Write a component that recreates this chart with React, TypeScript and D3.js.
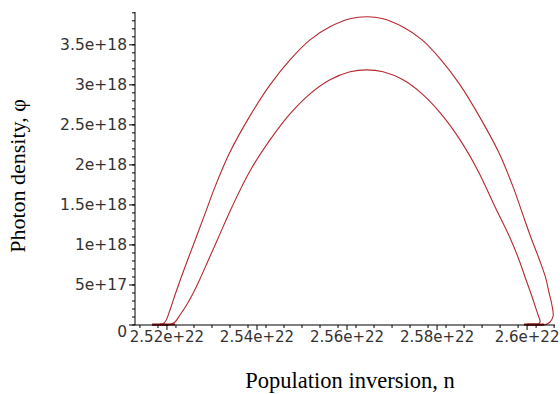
import React from "react";
import * as d3 from "d3";

// units: n in 1e22, phi in 1e18
const N_UNIT = 1e22;
const PHI_UNIT = 1e18;

const outerN = [2.51667, 2.51844, 2.51956, 2.52067, 2.52178, 2.52311, 2.52467, 2.52644, 2.52844, 2.53067, 2.534, 2.53844, 2.54289, 2.54733, 2.55178, 2.55622, 2.56067, 2.56444,
  2.568, 2.57233, 2.57667, 2.58089, 2.58511, 2.58933, 2.59367, 2.59689, 2.599, 2.60089, 2.60267, 2.60413, 2.60489, 2.60556, 2.60578, 2.60511, 2.60378, 2.60178, 2.6];
const outerPhi = [0, 0, 0.0375, 0.1875, 0.375, 0.5875, 0.825, 1.0875, 1.3875, 1.725, 2.16, 2.6125, 3.0, 3.3125, 3.5625, 3.725, 3.825, 3.85,
  3.825, 3.725, 3.5625, 3.3125, 3.0, 2.6125, 2.16, 1.725, 1.3875, 1.0875, 0.825, 0.5875, 0.4, 0.2375, 0.1125, 0.0375, 0, 0, 0];

const innerN = [2.51844, 2.52044, 2.52178, 2.52289, 2.52422, 2.52578, 2.52733, 2.52911, 2.53133, 2.53444, 2.53844, 2.54289, 2.54733, 2.55178, 2.55622, 2.56067, 2.56444,
  2.568, 2.57244, 2.57667, 2.58089, 2.58511, 2.58911, 2.59289, 2.59622, 2.59822, 2.59978, 2.60089, 2.60178, 2.60244, 2.60289, 2.60222, 2.60089, 2.59933];
const innerPhi = [0, 0, 0.0375, 0.125, 0.2375, 0.394, 0.575, 0.8, 1.081, 1.475, 1.925, 2.3125, 2.6375, 2.8875, 3.0625, 3.1625, 3.1875,
  3.1625, 3.0625, 2.8875, 2.6375, 2.3125, 1.925, 1.475, 1.0875, 0.8125, 0.5625, 0.3875, 0.2375, 0.125, 0.0375, 0.00625, 0, 0];

const xTickValues = [2.52, 2.54, 2.56, 2.58, 2.6];
const xTickLabels = ["2.52e+22", "2.54e+22", "2.56e+22", "2.58e+22", "2.6e+22"];
const yTickValues = [0, 0.5, 1, 1.5, 2, 2.5, 3, 3.5];
const yTickLabels = ["0", "5e+17", "1e+18", "1.5e+18", "2e+18", "2.5e+18", "3e+18", "3.5e+18"];

const xDomain = [2.5129, 2.6062];
const yDomain = [0, 3.91];

export default function App() {
  const W = 560, H = 394;
  const left = 135, right = 555, top = 12, bottom = 325;
  const x = d3.scaleLinear().domain(xDomain.map((v) => v * N_UNIT)).range([left, right]);
  const y = d3.scaleLinear().domain(yDomain.map((v) => v * PHI_UNIT)).range([bottom, top]);

  const line = d3
    .line<[number, number]>()
    .x((d) => x(d[0] * N_UNIT))
    .y((d) => y(d[1] * PHI_UNIT))
    .curve(d3.curveCatmullRom.alpha(0.5));

  const outer: [number, number][] = outerN.map((n, i) => [n, outerPhi[i]]);
  const inner: [number, number][] = innerN.map((n, i) => [n, innerPhi[i]]);

  const xMinor = d3.range(0, 50).map((i) => 2.514 + i * 0.004).filter((v) => v >= xDomain[0] && v <= xDomain[1]);
  const yMinor = d3.range(0, 40).map((i) => i * 0.1).filter((v) => v <= yDomain[1]);

  const flatSegs = [
    [outerN[0], outerN[2]],
    [innerN[0], innerN[2]],
    [outerN[outerN.length - 1], outerN[outerN.length - 3]],
    [innerN[innerN.length - 1], innerN[innerN.length - 3]],
  ];

  const tickFont = "'DejaVu Sans', Verdana, sans-serif";
  const titleFont = "'Liberation Serif', 'Times New Roman', serif";

  return (
    <svg width={W} height={H} style={{ position: "absolute", left: 0, top: 0, background: "#fff" }}>
      <path d={line(outer) || ""} fill="none" stroke="#b5282e" strokeWidth={1.1} />
      <path d={line(inner) || ""} fill="none" stroke="#b5282e" strokeWidth={1.1} />
      {flatSegs.map((s, i) => (
        <line key={i} x1={x(s[0] * N_UNIT)} x2={x(s[1] * N_UNIT)} y1={y(0) - 0.5} y2={y(0) - 0.5} stroke="#8b1414" strokeWidth={2} />
      ))}
      <line x1={left} x2={right} y1={bottom} y2={bottom} stroke="#000" strokeWidth={1} />
      <line x1={left} x2={left} y1={top} y2={bottom} stroke="#000" strokeWidth={1} />
      {xMinor.map((v, i) => (
        <line key={"xm" + i} x1={x(v * N_UNIT)} x2={x(v * N_UNIT)} y1={bottom} y2={bottom + 3} stroke="#000" />
      ))}
      {xTickValues.map((v, i) => (
        <g key={"xt" + i}>
          <line x1={x(v * N_UNIT)} x2={x(v * N_UNIT)} y1={bottom} y2={bottom + 5} stroke="#000" />
          <text x={x(v * N_UNIT)} y={bottom + 17} textAnchor="middle" fontFamily={tickFont} fontSize={15} fill="#333">
            {xTickLabels[i]}
          </text>
        </g>
      ))}
      {yMinor.map((v, i) => (
        <line key={"ym" + i} x1={left - 3} x2={left} y1={y(v * PHI_UNIT)} y2={y(v * PHI_UNIT)} stroke="#000" />
      ))}
      {yTickValues.map((v, i) => (
        <g key={"yt" + i}>
          <line x1={left - 6} x2={left} y1={y(v * PHI_UNIT)} y2={y(v * PHI_UNIT)} stroke="#000" />
          <text x={left - 8} y={y(v * PHI_UNIT) + (v === 0 ? 12 : 5.5)} textAnchor="end" fontFamily={tickFont} fontSize={15.5} fill="#333">
            {yTickLabels[i]}
          </text>
        </g>
      ))}
      <text x={350} y={388} textAnchor="middle" fontFamily={titleFont} fontSize={22.5} fill="#000">
        Population inversion, n
      </text>
      <text transform={`translate(25, 176) rotate(-90)`} textAnchor="middle" fontFamily={titleFont} fontSize={22} fill="#000">
        Photon density, φ
      </text>
    </svg>
  );
}
